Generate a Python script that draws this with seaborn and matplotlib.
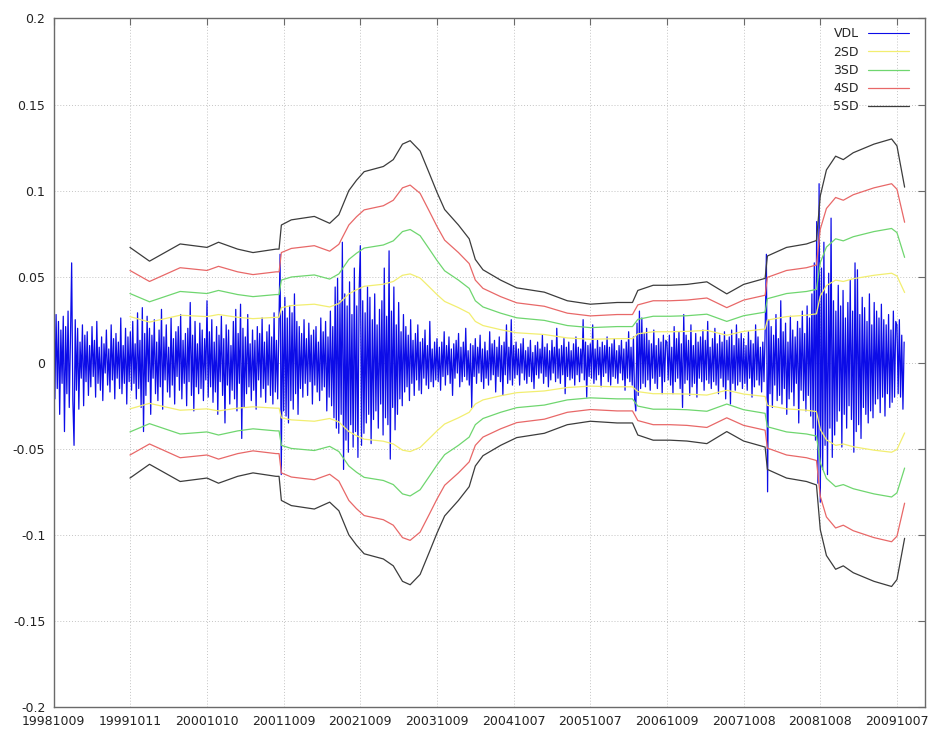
import numpy as np
import matplotlib
matplotlib.use("Agg")
import matplotlib.pyplot as plt
from matplotlib.lines import Line2D
import seaborn as sns

# ---------------- data ----------------
tick_labels = ["19981009", "19991011", "20001010", "20011009", "20021009", "20031009",
               "20041007", "20051007", "20061009", "20071008", "20081008", "20091007"]
y_ticks = [-0.2, -0.15, -0.1, -0.05, 0.0, 0.05, 0.1, 0.15, 0.2]
samples_per_year = 64

vdl_1998 = [0.063, -0.021, 0.028, -0.015, 0.024, -0.030, 0.019, -0.012, 0.027, -0.040, 0.021, -0.018, 0.030, -0.026, 0.014, 0.058,
            -0.022, -0.048, 0.025, -0.016, 0.020, -0.027, 0.012, -0.009, 0.022, -0.025, 0.016, -0.011, 0.018, -0.019, 0.010, -0.014,
            0.021, -0.008, 0.013, -0.020, 0.024, -0.012, 0.009, -0.016, 0.015, -0.022, 0.011, -0.006, 0.019, -0.013, 0.008, -0.017,
            0.022, -0.010, 0.014, -0.021, 0.017, -0.009, 0.012, -0.015, 0.026, -0.018, 0.010, -0.012, 0.020, -0.024, 0.015, -0.011]
vdl_1999 = [0.018, -0.016, 0.024, -0.012, 0.011, -0.021, 0.029, -0.015, 0.013, -0.026, 0.032, -0.040, 0.017, -0.019, 0.027, -0.011,
            0.020, -0.030, 0.016, -0.009, 0.025, -0.018, 0.012, -0.022, 0.019, -0.014, 0.031, -0.027, 0.015, -0.010, 0.022, -0.017,
            0.009, -0.020, 0.026, -0.013, 0.014, -0.024, 0.018, -0.008, 0.021, -0.016, 0.028, -0.021, 0.013, -0.012, 0.017, -0.025,
            0.020, -0.011, 0.035, -0.019, 0.016, -0.028, 0.024, -0.014, 0.011, -0.018, 0.023, -0.015, 0.019, -0.022, 0.014, -0.010]
vdl_2000 = [0.036, -0.020, 0.018, -0.014, 0.025, -0.023, 0.012, -0.017, 0.021, -0.030, 0.016, -0.011, 0.027, -0.019, 0.014, -0.035,
            0.022, -0.013, 0.019, -0.024, 0.010, -0.016, 0.024, -0.021, 0.031, -0.028, 0.017, -0.012, 0.034, -0.044, 0.020, -0.026,
            0.015, -0.018, 0.028, -0.014, 0.011, -0.022, 0.019, -0.016, 0.013, -0.027, 0.021, -0.010, 0.017, -0.020, 0.026, -0.015,
            0.012, -0.023, 0.018, -0.013, 0.022, -0.019, 0.015, -0.024, 0.029, -0.017, 0.013, -0.021, 0.020, 0.063, -0.065, 0.030]
vdl_2001 = [-0.028, 0.038, -0.031, 0.026, -0.035, 0.033, -0.022, 0.029, -0.027, 0.040, -0.018, 0.024, -0.030, 0.021, -0.015, 0.017,
            -0.020, 0.025, -0.012, 0.014, -0.019, 0.023, -0.011, 0.016, -0.024, 0.019, -0.013, 0.021, -0.017, 0.012, -0.022, 0.026,
            -0.016, 0.018, -0.014, 0.024, -0.028, 0.015, -0.020, 0.030, -0.025, 0.021, -0.032, 0.044, -0.038, 0.049, -0.041, 0.036,
            -0.030, 0.070, -0.062, 0.040, -0.045, 0.033, -0.052, 0.047, -0.036, 0.028, -0.049, 0.055, -0.040, 0.033, -0.055, 0.042]
vdl_2002 = [0.068, -0.048, 0.036, -0.041, 0.029, -0.035, 0.044, -0.030, 0.038, -0.047, 0.025, -0.033, 0.040, -0.028, 0.022, -0.038,
            0.031, -0.024, 0.036, -0.042, 0.055, -0.032, 0.027, -0.036, 0.065, -0.056, 0.030, -0.026, 0.044, -0.039, 0.022, -0.030,
            0.035, -0.021, 0.018, -0.025, 0.028, -0.017, 0.021, -0.014, 0.016, -0.022, 0.025, -0.012, 0.013, -0.019, 0.017, -0.010,
            0.022, -0.016, 0.012, -0.018, 0.014, -0.009, 0.019, -0.013, 0.010, -0.015, 0.024, -0.011, 0.008, -0.014, 0.012, -0.010]
vdl_2003 = [0.014, -0.011, 0.009, -0.016, 0.012, -0.008, 0.018, -0.013, 0.010, -0.007, 0.015, -0.012, 0.008, -0.019, 0.011, -0.009,
            0.013, -0.006, 0.017, -0.014, 0.009, -0.011, 0.012, -0.008, 0.020, -0.010, 0.007, -0.013, 0.011, -0.026, 0.010, -0.008,
            0.014, -0.012, 0.009, -0.006, 0.016, -0.011, 0.008, -0.015, 0.012, -0.009, 0.007, -0.013, 0.018, -0.010, 0.011, -0.007,
            0.013, -0.017, 0.009, -0.008, 0.015, -0.011, 0.010, -0.019, 0.012, -0.007, 0.022, -0.012, 0.009, -0.010, 0.025, -0.013]
vdl_2004 = [0.010, -0.009, 0.012, -0.007, 0.008, -0.013, 0.011, -0.006, 0.014, -0.010, 0.007, -0.012, 0.009, -0.008, 0.013, -0.011,
            0.006, -0.015, 0.010, -0.007, 0.012, -0.009, 0.008, -0.006, 0.016, -0.012, 0.009, -0.008, 0.011, -0.014, 0.007, -0.010,
            0.013, -0.006, 0.009, -0.011, 0.020, -0.009, 0.008, -0.012, 0.010, -0.007, 0.014, -0.018, 0.009, -0.008, 0.012, -0.010,
            0.007, -0.009, 0.011, -0.013, 0.015, -0.007, 0.009, -0.011, 0.008, -0.006, 0.025, -0.010, 0.012, -0.020, 0.010, -0.008]
vdl_2005 = [0.011, -0.009, 0.022, -0.012, 0.008, -0.010, 0.013, -0.007, 0.009, -0.014, 0.012, -0.008, 0.010, -0.006, 0.015, -0.011,
            0.009, -0.013, 0.011, -0.008, 0.014, -0.009, 0.007, -0.012, 0.010, -0.006, 0.013, -0.010, 0.008, -0.016, 0.012, -0.009,
            0.018, -0.011, 0.009, -0.013, 0.015, -0.021, -0.028, 0.023, -0.019, 0.030, -0.015, 0.026, -0.012, 0.017, -0.014, 0.020,
            -0.010, 0.013, -0.016, 0.011, -0.009, 0.019, -0.012, 0.010, -0.015, 0.014, -0.008, 0.012, -0.018, 0.016, -0.011, 0.013]
vdl_2006 = [0.012, -0.010, 0.016, -0.013, 0.009, -0.018, 0.021, -0.011, 0.014, -0.009, 0.018, -0.015, 0.011, -0.026, 0.028, -0.012,
            0.016, -0.010, 0.013, -0.019, 0.022, -0.014, 0.010, -0.012, 0.017, -0.020, 0.012, -0.009, 0.015, -0.011, 0.019, -0.016,
            0.013, -0.010, 0.024, -0.012, 0.009, -0.015, 0.014, -0.011, 0.020, -0.013, 0.011, -0.018, 0.016, -0.009, 0.012, -0.014,
            0.018, -0.021, 0.013, -0.010, 0.015, -0.024, 0.019, -0.012, 0.010, -0.016, 0.022, -0.013, 0.014, -0.011, 0.017, -0.015]
vdl_2007 = [0.014, -0.012, 0.010, -0.016, 0.018, -0.009, 0.013, -0.020, 0.011, -0.014, 0.022, -0.010, 0.015, -0.013, 0.009, -0.017,
            0.012, -0.011, 0.020, 0.063, -0.075, 0.025, -0.018, 0.021, -0.026, 0.016, -0.013, 0.028, -0.022, 0.014, -0.019, 0.036,
            -0.024, 0.018, -0.015, 0.023, -0.030, 0.012, -0.021, 0.027, -0.017, 0.019, -0.025, 0.015, -0.012, 0.024, -0.035, 0.020,
            -0.016, 0.030, -0.022, 0.017, -0.028, 0.033, -0.019, 0.026, -0.031, 0.040, -0.038, 0.058, -0.045, 0.082, -0.070, 0.104]
vdl_2008 = [-0.081, 0.055, -0.062, 0.070, -0.048, 0.040, -0.065, 0.052, -0.038, 0.084, -0.055, 0.036, -0.042, 0.030, -0.034, 0.045,
            -0.028, 0.033, -0.049, 0.042, -0.030, 0.026, -0.038, 0.035, -0.025, 0.048, -0.033, 0.030, -0.052, 0.058, -0.040, 0.054,
            -0.036, 0.028, -0.044, 0.038, -0.026, 0.032, -0.030, 0.024, -0.035, 0.040, -0.028, 0.022, -0.032, 0.035, -0.024, 0.030,
            -0.021, 0.026, -0.029, 0.034, -0.020, 0.025, -0.031, 0.022, -0.018, 0.028, -0.026, 0.019, -0.023, 0.030, -0.020, 0.024]
vdl_2009 = [0.022, -0.018, 0.025, -0.020, 0.016, -0.027, 0.012]

# rolling standard deviation (1 SD), read from the 5SD envelope; x in years from 19981009
sd_x = [0.995, 1.25, 1.45, 1.65, 2.0, 2.15, 2.4, 2.6, 2.9, 2.94, 2.97, 3.1, 3.4, 3.6, 3.72, 3.85, 3.95, 4.05,
        4.3, 4.43, 4.55, 4.65, 4.78, 4.9, 5.0, 5.1, 5.28, 5.42, 5.5, 5.6, 5.83, 6.04, 6.4, 6.7, 7.0, 7.35,
        7.55, 7.62, 7.82, 8.04, 8.26, 8.52, 8.65, 8.78, 9.0, 9.28, 9.31, 9.56, 9.82, 9.95, 10.0, 10.08, 10.2,
        10.3, 10.43, 10.7, 10.93, 11.0, 11.05, 11.1]
sd_1 = [0.0134, 0.0118, 0.0128, 0.0138, 0.0134, 0.0140, 0.0132, 0.0128, 0.0132, 0.0132, 0.0160, 0.0166, 0.0170,
        0.0162, 0.0172, 0.0200, 0.0212, 0.0222, 0.0228, 0.0236, 0.0254, 0.0258, 0.0246, 0.0220, 0.0198, 0.0178,
        0.0160, 0.0144, 0.0120, 0.0108, 0.0096, 0.0087, 0.0082, 0.0072, 0.0068, 0.0070, 0.0070, 0.0084, 0.0090,
        0.0090, 0.0091, 0.0094, 0.0087, 0.0080, 0.0091, 0.0098, 0.0124, 0.0134, 0.0138, 0.0142, 0.0194, 0.0224,
        0.0240, 0.0236, 0.0244, 0.0254, 0.0260, 0.0252, 0.0228, 0.0204]

band_names = ["2SD", "3SD", "4SD", "5SD"]
band_mult = [2, 3, 4, 5]
band_colors = ["#f2ee70", "#6fd66f", "#e86868", "#3c3c3c"]
vdl_color = "#0c0ce8"

# ---------------- plot ----------------
sns.set_theme(style="white")
plt.rcParams["font.family"] = ["DejaVu Sans"]

fig = plt.figure(figsize=(9.32, 7.33), dpi=100)
ax = fig.add_axes([0.0576, 0.0355, 0.9349, 0.9393])

vdl = np.array(vdl_1998 + vdl_1999 + vdl_2000 + vdl_2001 + vdl_2002 + vdl_2003 + vdl_2004 +
               vdl_2005 + vdl_2006 + vdl_2007 + vdl_2008 + vdl_2009)
vdl_x = np.arange(len(vdl)) / samples_per_year

sns.lineplot(x=vdl_x, y=vdl, ax=ax, color=vdl_color, linewidth=0.9,
             estimator=None, errorbar=None, sort=False)

sd_arr = np.array(sd_1)
for name, k, col in zip(band_names, band_mult, band_colors):
    sns.lineplot(x=sd_x, y=k * sd_arr, ax=ax, color=col, linewidth=0.9,
                 estimator=None, errorbar=None, sort=False)
    sns.lineplot(x=sd_x, y=-k * sd_arr, ax=ax, color=col, linewidth=0.9,
                 estimator=None, errorbar=None, sort=False)

ax.set_xlim(0, 11.366)
ax.set_ylim(-0.2, 0.2)
ax.set_xticks(range(len(tick_labels)))
ax.set_xticklabels(tick_labels)
ax.set_yticks(y_ticks)
ax.set_yticklabels([f"{round(v, 2):g}" for v in y_ticks])

ax.grid(True, color="#c4c4c4", linestyle=(0, (1, 2)), linewidth=0.7)
for sp in ax.spines.values():
    sp.set_color("#6a6a6a")
    sp.set_linewidth(1.0)
ax.tick_params(axis="both", direction="in", length=5, width=0.8, color="#6a6a6a",
               labelsize=9, labelcolor="#222222", top=True, right=True,
               labeltop=False, labelright=False)
ax.tick_params(axis="y", pad=6)
ax.tick_params(axis="x", pad=6)

handles = [Line2D([], [], color=vdl_color, linewidth=0.8)] + \
          [Line2D([], [], color=c, linewidth=0.9) for c in band_colors]
ax.legend(handles, ["VDL"] + band_names, loc="upper right",
          bbox_to_anchor=(0.9816, 0.987), frameon=False, markerfirst=False,
          fontsize=9, handlelength=3.3, handletextpad=0.7, labelspacing=0.42,
          borderpad=0, borderaxespad=0)
ax.set_xlabel("")
ax.set_ylabel("")

fig.savefig("out.png", dpi=100)
